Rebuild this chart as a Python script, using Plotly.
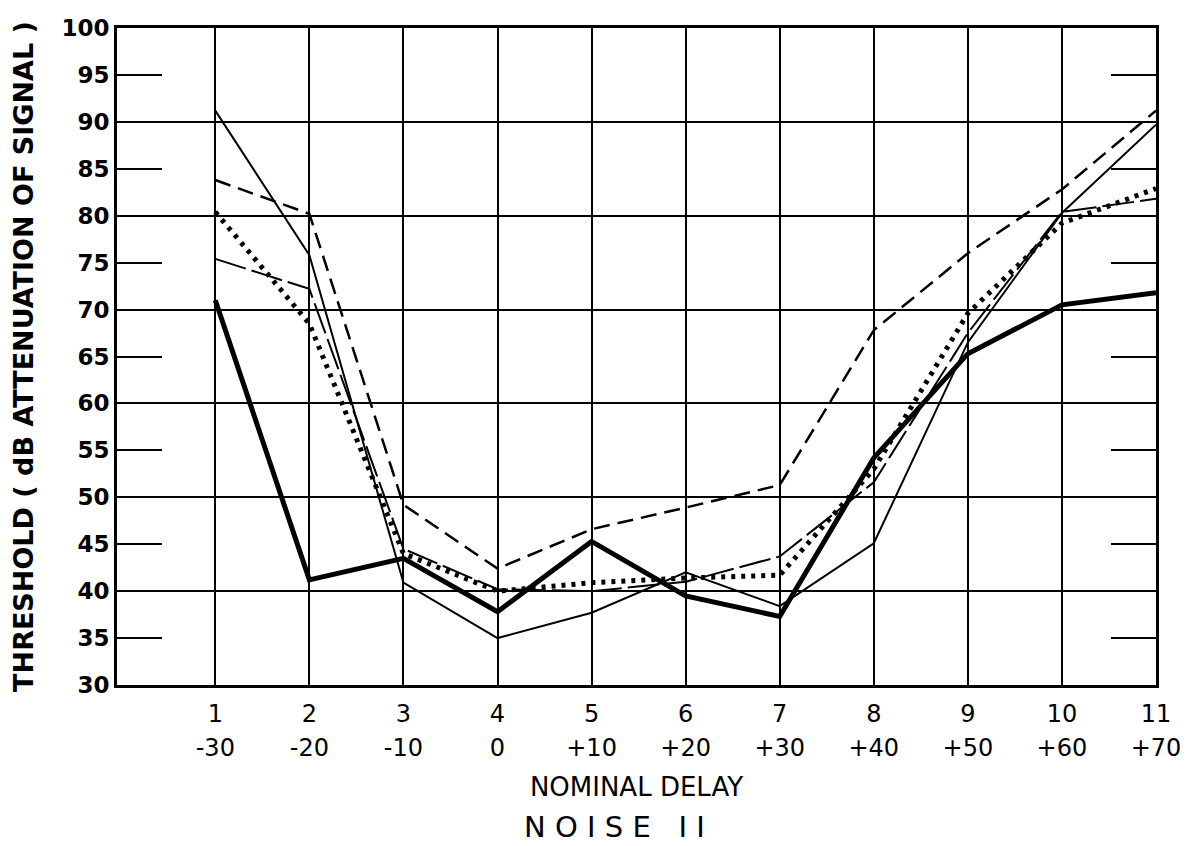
import plotly.graph_objects as go

categories = [1, 2, 3, 4, 5, 6, 7, 8, 9, 10, 11]
number_labels = ["1", "2", "3", "4", "5", "6", "7", "8", "9", "10", "11"]
delay_labels = ["-30", "-20", "-10", "0", "+10", "+20", "+30", "+40", "+50", "+60", "+70"]

heavy_solid = [71.0, 41.2, 43.5, 37.8, 45.3, 39.5, 37.3, 54.2, 65.3, 70.5, 71.8]
thin_solid = [91.2, 75.8, 40.9, 35.0, 37.7, 42.0, 38.4, 45.1, 66.5, 80.3, 89.7]
dashed = [83.8, 80.2, 49.2, 42.4, 46.6, 48.9, 51.3, 67.8, 76.0, 82.8, 91.2]
dotted = [80.4, 68.5, 44.0, 40.0, 40.9, 41.4, 41.7, 53.0, 69.6, 79.2, 82.9]
long_dash = [75.4, 72.2, 44.5, 40.2, 40.0, 41.0, 43.7, 51.6, 67.5, 80.4, 81.8]

y_ticks = [30, 35, 40, 45, 50, 55, 60, 65, 70, 75, 80, 85, 90, 95, 100]
y_tick_text = ["<b>%d</b>" % v for v in y_ticks]

FONT = "DejaVu Sans"

fig = go.Figure()

series = [
    (thin_solid, dict(color="black", width=2, dash="solid")),
    (long_dash, dict(color="black", width=2, dash="32px,6px")),
    (dashed, dict(color="black", width=2.5, dash="16px,8px")),
    (dotted, dict(color="black", width=5, dash="4px,6px")),
    (heavy_solid, dict(color="black", width=5, dash="solid")),
]
for vals, line in series:
    fig.add_trace(go.Scatter(x=categories, y=vals, mode="lines", line=line,
                             showlegend=False, hoverinfo="skip"))

# helper trace so the overlay axes (grid + delay labels) are drawn
fig.add_trace(go.Scatter(x=[None], y=[None], xaxis="x2", yaxis="y2",
                         mode="lines", showlegend=False, hoverinfo="skip"))

fig.update_layout(
    width=1193, height=846,
    margin=dict(l=117, r=28, t=28, b=161),
    paper_bgcolor="white", plot_bgcolor="white",
    font=dict(family=FONT, color="black"),
    xaxis=dict(
        range=[-0.045, 11], tickvals=categories, ticktext=number_labels,
        showgrid=True, gridcolor="black", gridwidth=2,
        showline=True, linecolor="black", linewidth=3, mirror=True,
        ticks="", zeroline=False, ticklabelstandoff=5,
        tickfont=dict(family=FONT, size=24, color="black"),
    ),
    xaxis2=dict(
        overlaying="x", side="bottom", anchor="y2",
        range=[-0.045, 11], tickvals=categories, ticktext=delay_labels,
        showgrid=False, showline=False, ticks="", zeroline=False,
        ticklabelstandoff=46,
        tickfont=dict(family=FONT, size=24, color="black"),
        title=dict(text="NOMINAL DELAY", standoff=16,
                   font=dict(family=FONT, size=26, color="black")),
    ),
    yaxis=dict(
        range=[30, 100], tickvals=y_ticks, ticktext=y_tick_text,
        ticks="inside", ticklen=45, tickwidth=2, tickcolor="black",
        showgrid=False, showline=True, linecolor="black", linewidth=3,
        mirror="ticks", zeroline=False,
        tickfont=dict(family=FONT, size=23, color="black"),
        title=dict(text="<b>THRESHOLD ( dB ATTENUATION OF SIGNAL )</b>", standoff=20,
                   font=dict(family=FONT, size=27, color="black")),
    ),
    yaxis2=dict(
        overlaying="y", side="left", anchor="x2",
        range=[30, 100], dtick=10, tick0=30,
        showgrid=True, gridcolor="black", gridwidth=2,
        showticklabels=False, showline=False, ticks="", zeroline=False,
    ),
    title=dict(text="N O I S E   I I", x=0.515, xanchor="center",
               y=0.011, yref="container", yanchor="bottom",
               font=dict(family=FONT, size=29, color="black")),
)

fig.write_html("out.html")
